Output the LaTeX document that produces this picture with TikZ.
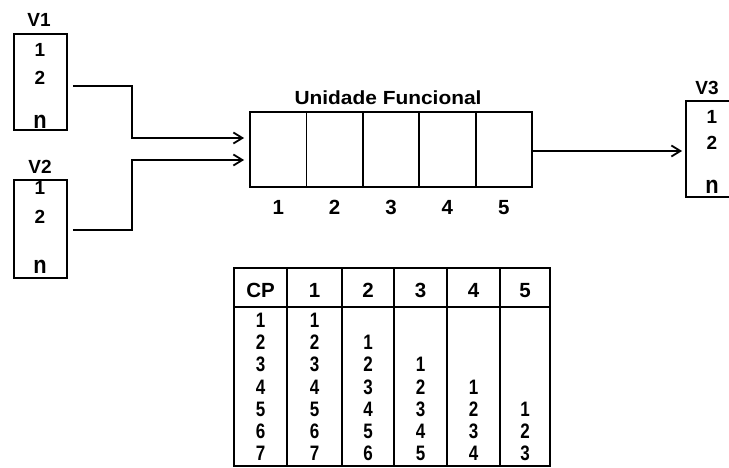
\documentclass[tikz,border=0pt]{standalone}
\usepackage{fontspec}
\usepackage{graphicx}
\setmainfont{Liberation Sans}
\usetikzlibrary{arrows.meta,calc}
\begin{document}
\begin{tikzpicture}[x=1pt,y=-1pt,
  line width=1.8pt,
  every node/.style={font=\fontsize{19}{19}\selectfont\bfseries, inner sep=0pt},
  vecbox/.style={draw, rectangle, minimum width=53pt, minimum height=96pt},
  stagebox/.style={draw, rectangle, minimum width=56.4pt, minimum height=75pt},
  flow/.style={-{Straight Barb[length=9pt,width=11pt]}, line width=1.8pt},
  bignum/.style={font=\fontsize{20.5}{20.5}\selectfont\bfseries, text height=14.7pt, text depth=0pt},
  datum/.style={font=\fontsize{17}{17}\selectfont\bfseries, text height=15pt, text depth=0pt},
]
\newcommand{\tallN}{\scalebox{1.15}[1.3]{n}}
\clip (0,0) rectangle (729,468);
\fill[white] (0,0) rectangle (729,468);

% input vectors
\node[vecbox] (v1) at (40.5,82) {};
\node (v1lab) at (39,20) {V1};
\node (v1a) at (40,50) {1};
\node (v1b) at (40,78) {2};
\node (v1n) at (40,122) {\tallN};

\node[vecbox, minimum height=98pt] (v2) at (40.5,229) {};
\node (v2lab) at (40,167) {V2};
\node (v2a) at (40,188) {1};
\node (v2b) at (40,217) {2};
\node (v2n) at (40,267) {\tallN};

% output vector
\node[vecbox] (v3) at (712.5,149) {};
\node (v3lab) at (707,88) {V3};
\node (v3a) at (712,117) {1};
\node (v3b) at (712,143) {2};
\node (v3n) at (712,187) {\tallN};

% pipelined functional unit
\foreach \i in {1,...,5}{
  \node[stagebox] (s\i) at ({278.2+56.4*(\i-1)},149.5) {};
  \node[bignum] (n\i) at ([shift={(0,19)}]s\i.south) {\i};
}
\node (futitle) at (388,98) {\scalebox{1.1}[1]{Unidade Funcional}};

% operand paths
\coordinate (fuin1) at ([shift={(-5,-11.5)}]s1.west);
\coordinate (fuin2) at ([shift={(-5,10.5)}]s1.west);
\coordinate (v1out) at ([shift={(5,4)}]v1.east);
\coordinate (v2out) at ([shift={(5,1)}]v2.east);
\coordinate (j1) at (132,138);
\coordinate (j2) at (132,160);
\draw[flow] (v1out) -| (j1) -- (fuin1);
\draw[flow] (v2out) -| (j2) -- (fuin2);
\coordinate (v3in) at ([shift={(-3,2)}]v3.west);
\draw[flow] ([shift={(0,1.5)}]s5.east) -- (v3in);

% timing table
\draw (234,268) rectangle (550,466);
\draw[line width=2.3pt] (234,268) -- (550,268);
\draw[line width=2.3pt] (234,307) -- (550,307);
\foreach \x in {287,342,394,447,500}{
  \draw (\x,268) -- (\x,466);
}
\foreach \k/\cx/\txt in {0/260.5/CP,1/314.5/1,2/368/2,3/420.5/3,4/473.5/4,5/525/5}{
  \node[bignum] (h\k) at (\cx,290) {\txt};
}
\foreach \k/\cx in {0/260.5,1/314.5,2/368,3/420.5,4/473.5,5/525}{
  \foreach \r in {1,...,7}{
    \pgfmathtruncatemacro{\v}{\k==0 ? \r : \r-\k+1}
    \ifnum\v>0
      \node[datum] (d\k-\r) at (\cx,{320+22.2*(\r-1)}) {\scalebox{1}[1.23]{\v}};
    \fi
  }
}
\end{tikzpicture}
\end{document}
